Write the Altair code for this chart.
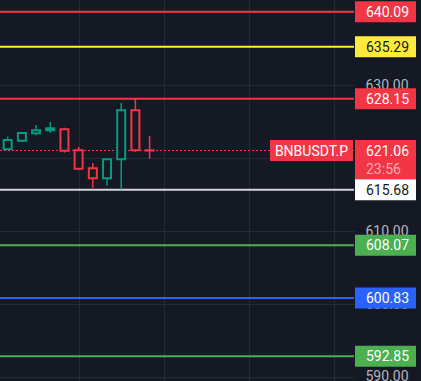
import altair as alt
import pandas as pd

# ---- data ----
candle_idx = [0, 1, 2, 3, 4, 5, 6, 7, 8, 9, 10]
opens  = [621.23, 622.41, 623.42, 623.83, 623.97, 621.09, 618.62, 617.25, 619.86, 626.57, 621.09]
highs  = [622.95, 623.60, 624.56, 624.97, 624.19, 621.54, 619.35, 620.03, 627.58, 628.15, 623.05]
lows   = [621.20, 622.23, 623.15, 623.50, 620.76, 618.39, 615.96, 616.24, 615.70, 620.86, 619.94]
closes = [622.50, 623.46, 623.83, 624.11, 621.04, 618.57, 617.25, 619.86, 626.57, 621.09, 621.06]

levels = [640.09, 635.29, 628.15, 615.68, 608.07, 600.83, 592.85]
level_line_colors = ["#f23645", "#ffeb3b", "#f23645", "#d1d4dc", "#4caf50", "#2962ff", "#4caf50"]
level_box_colors = ["#f23645", "#ffeb3b", "#f23645", "#ffffff", "#4caf50", "#2962ff", "#4caf50"]
level_text_colors = ["#ffffff", "#131722", "#ffffff", "#131722", "#ffffff", "#ffffff", "#ffffff"]

current_price = 621.06
symbol = "BNBUSDT.P"
countdown = "23:56"

axis_ticks = [590, 600, 610, 620, 630, 640]
time_grid = [5, 11, 17, 23]

UP = "#089981"
DOWN = "#f23645"
BG = "#151924"
GRID = "#262a36"
FONT = "Roboto"

# ---- tables ----
candles = pd.DataFrame({"i": candle_idx, "o": opens, "h": highs, "l": lows, "c": closes})
candles["col"] = [UP if c >= o else DOWN for o, c in zip(opens, closes)]

lv = pd.DataFrame({
    "p": levels,
    "line": level_line_colors,
    "box": level_box_colors,
    "tc": level_text_colors,
    "label": [f"{v:.2f}" for v in levels],
})
cur = pd.DataFrame({"p": [current_price], "label": [f"{current_price:.2f}"],
                    "sym": [symbol], "cd": [countdown]})

xs = alt.Scale(domain=[-0.19, 24.055], nice=False, zero=False)
ys = alt.Scale(domain=[589.45, 641.70], nice=False, zero=False)

x_axis = alt.Axis(values=time_grid, labels=False, ticks=False, domain=False,
                  grid=True, gridColor=GRID, gridWidth=1, title=None, zindex=0)
y_axis = alt.Axis(orient="right", values=axis_ticks, format=".2f", labelColor="#b2b5be",
                  labelFont=FONT, labelFontSize=14, labelPadding=11, ticks=False,
                  domain=False, grid=True, gridColor=GRID, gridWidth=1, title=None,
                  zindex=0, labelOverlap=False, labelBound=False, labelFlush=False)

base_axes = alt.Chart(candles).mark_point(opacity=0).encode(
    x=alt.X("i:Q", scale=xs, axis=x_axis),
    y=alt.Y("c:Q", scale=ys, axis=y_axis),
)

level_lines = alt.Chart(lv).mark_rule(strokeWidth=2).encode(
    y=alt.Y("p:Q", scale=ys),
    color=alt.Color("line:N", scale=None),
)

cur_line = alt.Chart(cur).mark_rule(strokeWidth=1, strokeDash=[2, 2], color=DOWN).encode(
    y=alt.Y("p:Q", scale=ys),
)

wicks = alt.Chart(candles).mark_rule(strokeWidth=1.5).encode(
    x=alt.X("i:Q", scale=xs),
    y=alt.Y("l:Q", scale=ys),
    y2="h:Q",
    color=alt.Color("col:N", scale=None),
)

bodies = alt.Chart(candles).mark_bar(width=8, strokeWidth=2, fill=BG).encode(
    x=alt.X("i:Q", scale=xs),
    y=alt.Y("o:Q", scale=ys),
    y2="c:Q",
    stroke=alt.Stroke("col:N", scale=None),
)

level_boxes = alt.Chart(lv).mark_rule(strokeWidth=21, strokeCap="butt").encode(
    x=alt.value(355), x2=alt.value(416),
    y=alt.Y("p:Q", scale=ys),
    color=alt.Color("box:N", scale=None),
)

level_text = alt.Chart(lv).mark_text(align="left", baseline="middle", font=FONT,
                                     fontSize=14, dy=1).encode(
    x=alt.value(366),
    y=alt.Y("p:Q", scale=ys),
    text="label:N",
    color=alt.Color("tc:N", scale=None),
)

cur_box = alt.Chart(cur).mark_rule(strokeWidth=39, strokeCap="butt", yOffset=9,
                                   color=DOWN).encode(
    x=alt.value(355), x2=alt.value(416),
    y=alt.Y("p:Q", scale=ys),
)
sym_box = alt.Chart(cur).mark_rule(strokeWidth=21, strokeCap="butt", color=DOWN).encode(
    x=alt.value(270), x2=alt.value(353),
    y=alt.Y("p:Q", scale=ys),
)
cur_text = alt.Chart(cur).mark_text(align="left", baseline="middle", font=FONT,
                                    fontSize=14, dy=1, color="#ffffff").encode(
    x=alt.value(366), y=alt.Y("p:Q", scale=ys), text="label:N",
)
cd_text = alt.Chart(cur).mark_text(align="left", baseline="middle", font=FONT,
                                   fontSize=14, dy=19, color="#f9aab1").encode(
    x=alt.value(366), y=alt.Y("p:Q", scale=ys), text="cd:N",
)
sym_text = alt.Chart(cur).mark_text(align="center", baseline="middle", font=FONT,
                                    fontSize=14, dy=1, color="#ffffff").encode(
    x=alt.value(311.5), y=alt.Y("p:Q", scale=ys), text="sym:N",
)

chart = alt.layer(
    base_axes, level_lines, cur_line, wicks, bodies,
    level_boxes, level_text, cur_box, sym_box, cur_text, cd_text, sym_text,
).properties(
    width=354, height=381,
    padding={"left": 0, "top": 0, "right": 67, "bottom": 0},
    autosize=alt.AutoSizeParams(type="none"),
    background=BG,
).configure_view(stroke=None)

chart.save("out.html", embed_options={"renderer": "svg", "actions": False})
